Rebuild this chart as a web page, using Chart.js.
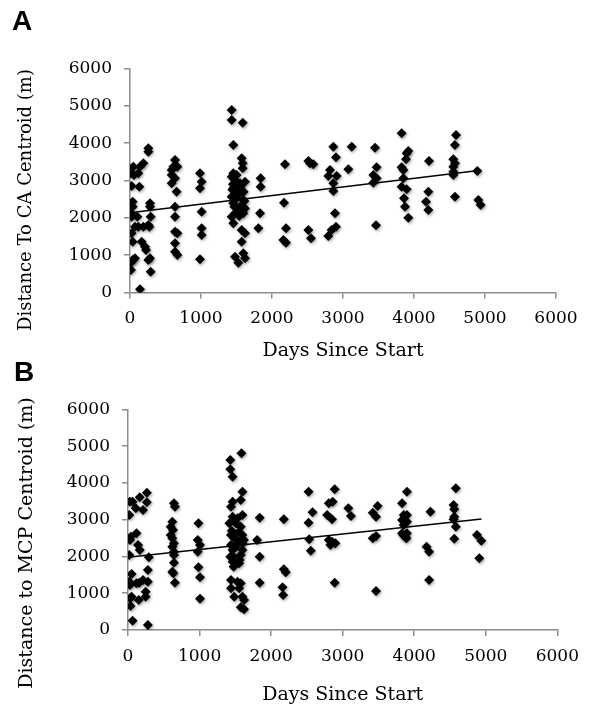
<!DOCTYPE html>
<html>
<head>
<meta charset="utf-8">
<script src="https://cdn.jsdelivr.net/npm/chart.js@4.4.1/dist/chart.umd.min.js"></script>
<style>
  html, body { margin: 0; padding: 0; background: #fff; }
  body { width: 589px; height: 708px; position: relative; overflow: hidden; }
  canvas { position: absolute; left: 0; }
  .panel-letter { position: absolute; font-family: "Liberation Sans", Arial, sans-serif; font-weight: bold;
                  font-size: 28px; line-height: 28px; color: #000; }
  .y-title { position: absolute; font-family: "DejaVu Serif", serif; font-size: 18px; line-height: 20px;
             white-space: nowrap; color: #000; transform: translate(-50%, -50%) rotate(-90deg); }
</style>
</head>
<body>
<canvas id="chartA" width="589" height="365" style="top:0"></canvas>
<canvas id="chartB" width="589" height="343" style="top:365px"></canvas>
<div class="panel-letter" style="left:12px;top:7px">A</div>
<div class="panel-letter" style="left:14px;top:358px">B</div>
<div class="y-title" style="left:25px;top:200px">Distance To CA Centroid (m)</div>
<div class="y-title" style="left:25px;top:543px;font-size:19px">Distance to MCP Centroid (m)</div>

<script>
// Axis ticks shared by both panels
const xTickValues = [0, 1000, 2000, 3000, 4000, 5000, 6000];
const xTickLabels = ['0', '1000', '2000', '3000', '4000', '5000', '6000'];
const yTickValues = [0, 1000, 2000, 3000, 4000, 5000, 6000];
const yTickLabels = ['0', '1000', '2000', '3000', '4000', '5000', '6000'];

// Panel A: distance to CA centroid (m) against days since start
const daysA = [
  47, 56, 23, 38, 38, 14, 23, 23, 38, 38, 14, 14, 70, 14, 70,
  141, 117, 131, 103, 117, 164, 211, 225, 141, 188, 258, 258, 282, 282, 291, 258, 272, 188, 282, 258, 291,
  634, 610, 667, 587, 587, 634, 587, 657, 634, 634, 634, 667, 634, 634, 667,
  986, 1009, 986, 1009, 1009, 1009, 986,
  1432, 1432, 1587, 1455, 1573, 1587, 1587, 1455, 1432, 1479, 1549, 1620, 1455, 1573, 1432, 1502, 1596,
  1455, 1549, 1479, 1596, 1432, 1455, 1573, 1620, 1573, 1596, 1620, 1479, 1526, 1502, 1526, 1502, 1526,
  1443, 1510, 1560, 1610, 1470, 1540, 1600, 1450, 1620,
  1840, 1840, 1831, 1808,
  2183, 2169, 2197, 2160, 2197,
  2512, 2582, 2535, 2512, 2549,
  2864, 2901, 2817, 2793, 2911, 2864, 2864, 2887, 2901, 2840, 2793,
  3122, 3075,
  3451, 3474, 3427, 3474, 3427, 3465,
  3826, 3920, 3897, 3887, 3826, 3850, 3850, 3826, 3897, 3859, 3873, 3920,
  4211, 4202, 4169, 4202,
  4592, 4577, 4554, 4577, 4554, 4554, 4554, 4577,
  4892, 4906, 4939
];
const distA = [
  3370, 3147, 2852, 2433, 2299, 2120, 2031, 1584, 1361, 870, 799, 602, 915, 3192, 1763,
  3370, 3192, 2835, 2031, 1763, 1361, 1227, 1138, 84, 3460, 3861, 3772, 2388, 2299, 2031, 1808, 1763, 1763, 915, 870, 557,
  3549, 3370, 3370, 3281, 3147, 3058, 2924, 2701, 2299, 2031, 1629, 1584, 1317, 1093, 1004,
  3192, 2969, 2790, 2165, 1718, 1540, 888,
  4889, 4621, 4549, 3951, 3594, 3460, 3326, 3192, 3102, 3013, 2924, 2969, 2790, 2701, 2567, 2522, 2477,
  2388, 2299, 2120, 2120, 2031, 1852, 1674, 1584, 1361, 1049, 915, 959, 799, 3147, 2835, 2656, 2210,
  2750, 2600, 2850, 2450, 2300, 2050, 2700, 2900, 2250,
  3058, 2835, 2120, 1718,
  3433, 2406, 1718, 1406, 1334,
  3522, 3433, 3460, 1674, 1450,
  3906, 3620, 3281, 3120, 3120, 2924, 2719, 2120, 1763, 1674, 1513,
  3906, 3299,
  3879, 3353, 3147, 3058, 2942, 1799,
  4263, 3790, 3728, 3567, 3353, 3281, 3058, 2835, 2763, 2522, 2299, 2004,
  3522, 2701, 2433, 2210,
  4219, 3951, 3567, 3460, 3370, 3236, 3147, 2567,
  3254, 2477, 2344
];
// Linear trend for panel A: [day, distance] at both ends
const trendA = [[0, 2135], [4940, 3275]];

// Panel B: distance to MCP centroid (m) against days since start
const daysB = [
  27, 64, 18, 41, 27, 18, 50, 18, 27, 50, 27, 36, 64,
  164, 109, 118, 141, 164, 155, 150, 210, 264, 264, 291, 278, 278, 246, 246, 210, 278, 118,
  642, 656, 619, 597, 628, 597, 619, 642, 619, 642, 642, 642, 619, 633, 656,
  984, 975, 1006, 975, 984, 1006, 1006,
  1585, 1430, 1430, 1462, 1599, 1462, 1576, 1439, 1462, 1530, 1599, 1417, 1508, 1576, 1439, 1599, 1485, 1553,
  1439, 1462, 1599, 1430, 1576, 1462, 1553, 1476, 1439, 1530, 1576, 1439, 1553, 1485, 1599, 1622, 1576, 1622,
  1450, 1540, 1600, 1470, 1560, 1620, 1500,
  1840, 1804, 1840, 1840,
  2177, 2177, 2204, 2159, 2168,
  2523, 2578, 2523, 2532, 2555,
  2888, 2860, 2806, 2783, 2851, 2806, 2851, 2897, 2828, 2888,
  3079, 3115,
  3488, 3420, 3466, 3466, 3420, 3466,
  3898, 3830, 3853, 3898, 3830, 3898, 3853, 3830, 3898, 3875, 3844, 3889,
  4226, 4172, 4208, 4208,
  4581, 4549, 4559, 4559, 4549, 4581, 4559,
  4877, 4937, 4909
];
const distB = [
  3489, 3489, 3127, 2537, 2447, 2039, 1522, 1314, 1223, 906, 861, 652, 254,
  3607, 3308, 2628, 2311, 2175, 1287, 816, 3263, 3734, 3471, 1976, 1631, 1314, 1042, 906, 1359, 136, 1269,
  3444, 3353, 2945, 2809, 2719, 2583, 2492, 2356, 2266, 2130, 2039, 1831, 1586, 1541, 1287,
  2900, 2447, 2311, 2130, 1704, 1432, 852,
  4803, 4622, 4368, 4169, 3761, 3489, 3534, 3353, 3081, 3036, 3127, 2900, 2900, 2809, 2583, 2583, 2492, 2402,
  2311, 2175, 2175, 1994, 2039, 1858, 1812, 1722, 1359, 1314, 1269, 1133, 1133, 906, 906, 816, 616, 562,
  2700, 2650, 2350, 2000, 1900, 2450, 2250,
  3054, 2447, 1994, 1287,
  3009, 1649, 1568, 1160, 951,
  3761, 3199, 2918, 2465, 2157,
  3824, 3489, 3444, 3127, 3009, 2447, 2402, 2356, 2311, 1287,
  3308, 3099,
  3371, 3190, 3081, 2556, 2492, 1060,
  3761, 3444, 3127, 3127, 2991, 2945, 2855, 2628, 2628, 2537, 2583, 2492,
  3217, 2266, 2130, 1359,
  3852, 3398, 3281, 3081, 3009, 2809, 2483,
  2583, 2429, 1948
];
// Linear trend for panel B: [day, distance] at both ends
const trendB = [[0, 1975], [4940, 3015]];

const AXIS_GREY = '#8c8c8c';
const SERIF = '"DejaVu Serif", serif';

// Soft drop shadow under the diamond markers
const markerShadow = {
  id: 'markerShadow',
  beforeDatasetDraw(chart, args) {
    if (args.index !== 1) return;
    const ctx = chart.ctx;
    ctx.save();
    ctx.shadowColor = 'rgba(0,0,0,0.35)';
    ctx.shadowBlur = 3;
    ctx.shadowOffsetX = 1;
    ctx.shadowOffsetY = 1.5;
  },
  afterDatasetDraw(chart, args) {
    if (args.index !== 1) return;
    chart.ctx.restore();
  }
};

function drawPanel(canvasId, days, dist, trend, geo) {
  const points = days.map((d, i) => ({ x: d, y: dist[i] }));
  const trendPoints = trend.map(p => ({ x: p[0], y: p[1] }));
  return new Chart(document.getElementById(canvasId), {
    type: 'scatter',
    data: {
      datasets: [
        { type: 'line', data: trendPoints, borderColor: '#000', borderWidth: 1.5,
          pointRadius: 0, fill: false, tension: 0 },
        { data: points, pointStyle: 'rectRot', pointRadius: 5, pointHoverRadius: 5,
          backgroundColor: '#000', borderColor: '#000', borderWidth: 0 }
      ]
    },
    options: {
      responsive: false,
      animation: false,
      events: [],
      layout: { padding: { left: 0, top: geo.top, right: geo.right, bottom: 0 } },
      plugins: { legend: { display: false }, tooltip: { enabled: false } },
      scales: {
        x: {
          type: 'linear', min: 0, max: 6000,
          afterBuildTicks: s => { s.ticks = xTickValues.map(v => ({ value: v })); },
          afterFit: s => { s.height = geo.xAxisHeight; },
          border: { color: AXIS_GREY, width: 1.5 },
          grid: { drawOnChartArea: false, color: AXIS_GREY, lineWidth: 1.5, tickLength: 6 },
          ticks: { color: '#000', font: { family: SERIF, size: 17 }, padding: 10,
                   maxRotation: 0, autoSkip: false, callback: (v, i) => xTickLabels[i] },
          title: { display: true, text: 'Days Since Start', color: '#000',
                   font: { family: SERIF, size: 19 }, padding: { top: 0, bottom: geo.xTitlePad } }
        },
        y: {
          type: 'linear', min: 0, max: 6000,
          afterBuildTicks: s => { s.ticks = yTickValues.map(v => ({ value: v })); },
          afterFit: s => { s.width = geo.yAxisWidth; },
          border: { color: AXIS_GREY, width: 1.5 },
          grid: { drawOnChartArea: false, color: AXIS_GREY, lineWidth: 1.5, tickLength: 6 },
          ticks: { color: '#000', font: { family: SERIF, size: 17 }, padding: 12,
                   autoSkip: false, callback: (v, i) => yTickLabels[i] }
        }
      }
    },
    plugins: [markerShadow]
  });
}

drawPanel('chartA', daysA, distA, trendA,
  { top: 68.5, right: 33, yAxisWidth: 130, xAxisHeight: 72.5, xTitlePad: 3 });
drawPanel('chartB', daysB, distB, trendB,
  { top: 44.3, right: 22, yAxisWidth: 128, xAxisHeight: 78, xTitlePad: 2 });
</script>
</body>
</html>
